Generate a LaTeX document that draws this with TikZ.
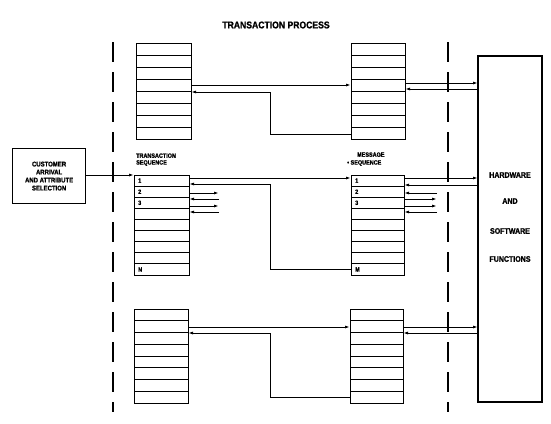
\documentclass[tikz,border=0pt]{standalone}
\usepackage{fontspec}
\setmainfont{Liberation Sans}[FakeStretch=0.88,BoldFeatures={FakeBold=1.2}]
\usetikzlibrary{arrows.meta,calc}
\tikzset{
  stackbox/.style={draw,line width=1pt,inner sep=0pt,outer sep=0pt,anchor=north west},
  rowline/.style={line width=0.9pt},
  conn/.style={line width=1pt},
  arr/.style={conn,-{Latex[length=5pt,width=3pt]}},
  dashline/.style={line width=1.3pt,dash pattern=on 20pt off 10pt},
  lab/.style={font=\bfseries\fontsize{6.2}{6.8}\selectfont,inner sep=0pt,anchor=west},
  hw/.style={font=\bfseries\fontsize{8}{9}\selectfont,inner sep=0pt},
  cust/.style={draw,line width=1.2pt,font=\bfseries\fontsize{6.8}{8}\selectfont,align=center,inner sep=0pt,anchor=north west}
}
\newcommand{\mkstack}[6]{%
  \node[stackbox,minimum width=#4pt-#2pt,minimum height=#5pt-#3pt] (#1) at (#2,#3) {};
  \foreach \i in {1,...,\numexpr#6-1\relax}{
    \draw[rowline] ($(#1.north west)!\i/#6!(#1.south west)$) -- ($(#1.north east)!\i/#6!(#1.south east)$);
  }%
}
\begin{document}
\begin{tikzpicture}[x=1pt,y=-1pt]
\useasboundingbox (0,0) rectangle (551,423);

% title
\node[font=\bfseries\fontsize{9.8}{10}\selectfont,inner sep=0pt] (title) at (276,25) {TRANSACTION PROCESS};

% dashed boundaries
\draw[dashline] (113,42) -- (113,412);
\draw[dashline] (448,42) -- (448,412);

% stacks
\mkstack{TL}{136}{43}{191}{139}{8}
\mkstack{TR}{351}{43}{405}{139}{8}
\mkstack{ML}{134}{175}{189}{275}{9}
\mkstack{MR}{351}{175}{404}{275}{9}
\mkstack{BL}{134}{309}{188}{403}{8}
\mkstack{BR}{350}{309}{403}{403}{8}

% hardware box
\node[stackbox,line width=1.2pt,minimum width=64pt,minimum height=346pt] (HW) at (478,56) {};
\node[hw] (hw1) at (510,175) {HARDWARE};
\node[hw] (hw2) at (510,201) {AND};
\node[hw] (hw3) at (510,231) {SOFTWARE};
\node[hw] (hw4) at (510,259) {FUNCTIONS};

% customer box
\node[cust,minimum width=73pt,minimum height=55pt] (CU) at (12,148) {CUSTOMER\\ARRIVAL\\AND ATTRIBUTE\\SELECTION};

% labels
\node[lab,align=left,anchor=south west] (tseq) at (136,166) {TRANSACTION\\SEQUENCE};
\node[lab,anchor=south west] (mseq1) at (357,157) {MESSAGE};
\node[lab,anchor=south west] (mseq2) at (347,166) {\textbullet\ SEQUENCE};

\node[lab] (l1) at (138,180.6) {1};
\node[lab] (l2) at (138,191.7) {2};
\node[lab] (l3) at (138,202.8) {3};
\node[lab] (lN) at (138,269.4) {N};
\node[lab] (r1) at (355,180.6) {1};
\node[lab] (r2) at (355,191.7) {2};
\node[lab] (r3) at (355,202.8) {3};
\node[lab] (rM) at (355,269.4) {M};

% top connectors
\draw[arr] (TL.east |- 0,85) -- (TR.west |- 0,85);
\draw[arr] (TR.west |- 0,134) -| (270,92) -- (TL.east |- 0,92);
\draw[arr] (TR.east |- 0,83) -- (HW.west |- 0,83);
\draw[arr] (HW.west |- 0,89) -- (TR.east |- 0,89);

% middle connectors
\draw[arr] (CU.east |- 0,175) -- (ML.west |- 0,175);
\draw[arr] (ML.east |- 0,178) -- (MR.west |- 0,178);
\draw[arr] (MR.west |- 0,269.4) -| (270,184) -- (ML.east |- 0,184);
\draw[arr] (MR.east |- 0,178) -- (HW.west |- 0,178);
\draw[arr] (HW.west |- 0,185) -- (MR.east |- 0,185);

% short arrows left middle stack
\coordinate (sl) at (219,0);
\draw[arr] (ML.east |- 0,193) -- (sl |- 0,193);
\draw[arr] (sl |- 0,199) -- (ML.east |- 0,199);
\draw[arr] (ML.east |- 0,206) -- (sl |- 0,206);
\draw[arr] (sl |- 0,212) -- (ML.east |- 0,212);

% short arrows right middle stack
\coordinate (sr) at (437,0);
\draw[arr] (sr |- 0,193) -- (MR.east |- 0,193);
\draw[arr] (MR.east |- 0,199) -- (sr |- 0,199);
\draw[arr] (MR.east |- 0,206) -- (sr |- 0,206);
\draw[arr] (sr |- 0,212) -- (MR.east |- 0,212);

% bottom connectors
\draw[arr] (BL.east |- 0,327) -- (BR.west |- 0,327);
\draw[arr] (BR.west |- 0,397) -| (270,333) -- (BL.east |- 0,333);
\draw[arr] (BR.east |- 0,327) -- (HW.west |- 0,327);
\draw[arr] (HW.west |- 0,333) -- (BR.east |- 0,333);
\end{tikzpicture}
\end{document}
